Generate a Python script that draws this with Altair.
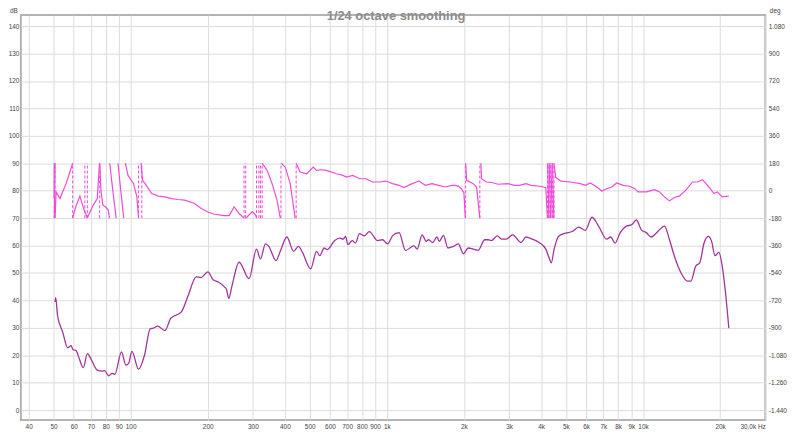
import altair as alt
import pandas as pd

# ---------------- data ----------------
mag_freq = [50.7, 51.0, 51.9, 54.3, 56.8, 58.5, 59.7, 61.2, 63.0, 65.4, 67.8, 69.9, 74.1, 77.5, 79.1,
            82.2, 84.7, 86.8, 92.1, 95.9, 98.2, 101.2, 107.4, 113.3, 119.2, 122.7, 127.5, 136.1, 143.6,
            157.8, 167.5, 180.3, 188.5, 200.1, 210, 220, 231.7, 236.7, 241.7, 248.3, 265.2, 290.0, 310.0,
            321.2, 336.0, 346.2, 369.5, 383.9, 407.4, 432.4, 452.0, 469.6, 504.3, 531.9, 547.7, 569.5,
            585.0, 626.0, 654.5, 674.6, 690.3, 705.2, 732.7, 754.5, 781.9, 817.4, 854.6, 920.7, 962.6,
            1006, 1052, 1116, 1184, 1275, 1314, 1374, 1424, 1457, 1510, 1570, 1602, 1664, 1731, 1819,
            1902, 1989, 2079, 2174, 2272, 2411, 2483, 2559, 2700, 2812, 2924, 3100, 3341, 3493, 3704,
            3932, 4174, 4298, 4387, 4494, 4697, 4986, 5288, 5612, 5957, 6316, 6705, 7218, 7479, 7777,
            8128, 8618, 9010, 9421, 9849, 10297, 10765, 11255, 12131, 12683, 13260, 14060, 14920,
            15365, 16065, 16646, 17310, 17985, 18522, 19090, 19780, 20370, 20980, 21620]
mag_db = [39.4, 41.0, 34.3, 28.5, 22.7, 23.5, 22.0, 21.8, 18.8, 15.5, 20.6, 18.8, 14.6, 14.2, 14.4,
          12.5, 13.4, 13.0, 21.2, 16.4, 17.0, 21.4, 14.9, 20.0, 29.6, 29.9, 30.6, 29.0, 33.5,
          35.8, 41.6, 48.6, 48.3, 50.4, 47.5, 46.7, 45.0, 44.0, 40.7, 45.0, 53.9, 47.9, 58.7,
          55.1, 60.6, 59.7, 54.5, 57.9, 63.1, 57.9, 59.7, 57.3, 51.5, 57.9, 56.3, 59.1,
          58.5, 61.8, 62.7, 62.3, 63.3, 60.3, 61.8, 60.9, 64.3, 63.5, 65.1, 61.8, 62.1,
          60.6, 63.5, 64.7, 58.2, 59.9, 58.7, 63.9, 61.5, 62.1, 61.1, 63.1, 61.5, 63.7, 59.1, 59.7,
          60.6, 57.0, 59.1, 58.7, 58.2, 62.1, 62.1, 61.8, 63.5, 62.3, 62.3, 63.9, 61.1, 63.1, 62.3,
          61.1, 58.7, 55.5, 53.7, 58.5, 63.5, 64.5, 65.1, 66.7, 65.5, 70.3, 67.1, 62.3, 63.1, 60.9,
          64.5, 67.1, 67.5, 69.3, 65.7, 64.7, 63.1, 64.5, 67.1, 62.1, 56.1, 50.1, 47.0,
          47.0, 52.5, 53.7, 60.9, 63.3, 61.5, 56.3, 57.5, 52.5, 42.9, 29.9]

phase_freq = [
    50.3, 50.4,
    50.4, 50.7,
    50.7, 51.2, 53.0, 56.0, 59.4,
    59.4, 61.1, 63.4, 65.5, 67.8,
    67.8, 70.9, 74.1, 75.6,
    75.8, 76.6, 77.9, 79.8, 81.8, 82.7,
    82.9, 85.2, 87.8,
    89.3, 91.5, 94.0,
    95.4, 97.7, 102.7, 105.8, 107.4,
    109.9, 111.3, 113.9, 120.9, 128.2, 136.1, 144.4, 153.2, 162.6, 177.7, 188.6, 200.1, 212.3,
    232.1, 242.6, 253.6, 265.1, 277.2,
    281.3, 285.5, 298.5, 307.6, 310.1,
    326.2, 341.0, 356.6, 372.8, 384.0,
    387.4, 401.5, 419.7, 438.8,
    442.7, 458.7, 486.9, 516.4, 531.9, 556.1, 581.5, 635.6, 674.4, 694.7, 737.0, 782.0, 829.8,
    880.4, 934.2, 991.1, 1051.7, 1115.9, 1166.6, 1256.7, 1333.4, 1414.9, 1501.4, 1592.2, 1689.7,
    1792.6, 1847, 1902.1, 1960, 2000, 2025,
    2030, 2049, 2110, 2174, 2240, 2307,
    2328, 2342, 2448, 2597, 2715, 2968, 3147, 3291, 3493, 3652, 3990, 4172, 4234,
    4245, 4290,
    4305, 4355,
    4370, 4420,
    4435, 4485,
    4494, 4560, 4767, 5210, 5695, 5955, 6226, 6604, 6905, 7219, 7548, 7889, 8373, 8882, 9287,
    9565, 10301, 11092, 11596, 12125, 12677, 13255, 13858, 14703, 15600, 16310, 17050, 18090,
    18910, 19480, 20370, 21610]
phase_deg = [
    -52, 180,
    -180, 180,
    -180, -8, -52, 46, 180,
    -180, -106, -36, -116, -180,
    -180, -106, -52, 180,
    180, 3, -95, -106, -127, -180,
    180, 3, -180,
    180, 3, -180,
    180, 100, 46, -41, -180,
    180, 68, 46, -19, -36, -41, -52, -58, -62, -84, -117, -140, -155,
    -164, -164, -106, -150, -180,
    -180, -171, -138, -160, -180,
    180, 133, 46, -62, -180,
    180, 154, 46, -180,
    180, 122, 111, 154, 133, 137, 133, 111, 100, 89, 100, 78, 78,
    57, 57, 63, 46, 35, 20, 46, 63, 35, 46, 35, 24,
    35, 35, 30, 10, -15, -180,
    180, 68, 57, 46, 24, -180,
    180, 78, 57, 52, 42, 46, 35, 35, 46, 35, 29, 20, -180,
    180, -180,
    180, -180,
    180, -180,
    180, -180,
    180, 89, 63, 57, 46, 35, 50, 24, -2, 13, 24, 50, 35, 29, 13,
    -8, -8, 7, -8, -41, -67, -45, -36, 3, 57, 57, 72, 24,
    -19, -8, -41, -36]
# number of points in each unwrapped piece of the phase trace
phase_seg_len = [2, 2, 5, 5, 4, 6, 3, 3, 5, 18, 5, 5, 4, 31, 6, 13, 2, 2, 2, 2, 32]

wrap_freq = [50.4, 50.7, 59.4, 66.3, 67.8, 75.7, 107.4, 110.6, 277.2, 281.3, 310.1, 316.6,
             321.4, 326.2, 386.3, 442.7, 2030, 2307, 4240, 4298, 4362, 4428, 4494]

x_ticks = [40, 50, 60, 70, 80, 90, 100, 200, 300, 400, 500, 600, 700, 800, 900,
           1000, 2000, 3000, 4000, 5000, 6000, 7000, 8000, 9000, 10000, 20000, 30000]
db_ticks = [0, 10, 20, 30, 40, 50, 60, 70, 80, 90, 100, 110, 120, 130, 140]
deg_ticks = [-1440, -1260, -1080, -900, -720, -540, -360, -180, 0, 180, 360, 540, 720, 900, 1080]

chart_title = "1/24 octave smoothing"

# ---------------- chart ----------------
MAG = "#a2339b"
PHASE = "#f04ad6"
GRID = "#dcdcdc"
FONT = "Liberation Sans"
LBL = 6.5

phase_seg = []
for i, n in enumerate(phase_seg_len):
    phase_seg += [i] * n

mag_df = pd.DataFrame({"freq": mag_freq, "db": mag_db})
ph_df = pd.DataFrame({"freq": phase_freq, "deg": phase_deg, "seg": phase_seg})
wrap_df = pd.DataFrame({"freq": wrap_freq, "lo": [-180] * len(wrap_freq), "hi": [180] * len(wrap_freq)})

x_scale = alt.Scale(type="log", domain=[37.3, 30000], nice=False)
x_label = ("datum.value >= 30000 ? '30,0k Hz' : datum.value >= 1000 ? "
           "(datum.value / 1000) + 'k' : '' + datum.value")
x_axis = alt.Axis(values=x_ticks, labelExpr=x_label, grid=True, gridColor=GRID, gridWidth=1,
                  ticks=False, domain=False, labelOverlap=False, title=None,
                  labelFontSize=LBL, labelFont=FONT, labelColor="#444", labelPadding=4)
x_enc = alt.X("freq:Q", scale=x_scale, axis=x_axis)

db_scale = alt.Scale(domain=[-3.6, 144.0], nice=False, zero=False)
deg_scale = alt.Scale(domain=[-1504.8, 1152.0], nice=False, zero=False)

mag = alt.Chart(mag_df).mark_line(color=MAG, strokeWidth=1.3, interpolate="monotone").encode(
    x=x_enc,
    y=alt.Y("db:Q", scale=db_scale,
            axis=alt.Axis(orient="left", values=db_ticks, grid=True, gridColor=GRID, gridWidth=1,
                          ticks=False, domain=False, title=None, labelFontSize=LBL, labelFont=FONT,
                          labelColor="#444", labelPadding=2, labelOverlap=False)),
)

deg_label = "(datum.value < 0 ? '-' : '') + replace(format(abs(datum.value), ','), ',', '.')"
deg_axis = alt.Axis(orient="right", values=deg_ticks, labelExpr=deg_label, grid=False,
                    ticks=False, domain=False, title=None, labelFontSize=LBL, labelFont=FONT,
                    labelColor="#444", labelPadding=3, labelOverlap=False)

phase_line = alt.Chart(ph_df).mark_line(color=PHASE, strokeWidth=1.2).encode(
    x=x_enc,
    y=alt.Y("deg:Q", scale=deg_scale, axis=deg_axis),
    detail="seg:N",
)
wraps = alt.Chart(wrap_df).mark_rule(color=PHASE, strokeWidth=1, strokeDash=[3, 2]).encode(
    x=x_enc,
    y=alt.Y("lo:Q", scale=deg_scale, axis=deg_axis),
    y2="hi:Q",
)
phase = alt.layer(phase_line, wraps)

title_df = pd.DataFrame({"t": [chart_title]})
title_txt = alt.Chart(title_df).mark_text(
    font=FONT, fontSize=13, fontWeight="bold", color="#8c8c8c", align="center", baseline="middle"
).encode(x=alt.value(379), y=alt.value(1), text="t:N")

unit_df = pd.DataFrame({"t": ["dB"]})
db_txt = alt.Chart(unit_df).mark_text(
    font=FONT, fontSize=6.5, color="#444", align="center", baseline="middle"
).encode(x=alt.value(-7), y=alt.value(-4), text="t:N")
deg_df = pd.DataFrame({"t": ["deg"]})
deg_txt = alt.Chart(deg_df).mark_text(
    font=FONT, fontSize=6.5, color="#444", align="center", baseline="middle"
).encode(x=alt.value(762), y=alt.value(-4), text="t:N")

chart = alt.layer(mag, phase, title_txt, db_txt, deg_txt).resolve_scale(y="independent").properties(
    width=752, height=409,
    padding={"left": 13, "top": 5, "right": 27, "bottom": 13},
    autosize=alt.AutoSizeParams(type="none"),
    background="white",
).configure_view(stroke="#b3b3b3", strokeWidth=2)

chart.save("out.html", embed_options={"renderer": "svg", "actions": False})
